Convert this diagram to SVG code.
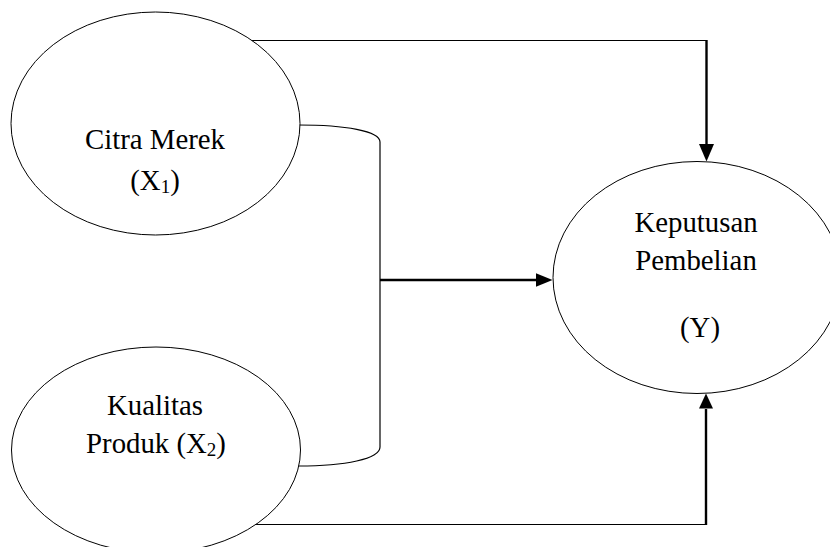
<svg xmlns="http://www.w3.org/2000/svg" width="830" height="547" viewBox="0 0 830 547">
<defs>
<style>
.node{fill:#fff;stroke:#000;stroke-width:1}
.lbl{font-family:"Liberation Serif","Times New Roman",serif;font-size:28.8px;fill:#000;text-anchor:middle}
.sub{font-size:19px}
.thin{fill:none;stroke:#000;stroke-width:1.2}
.thick{fill:none;stroke:#000;stroke-width:2.4}
.head{fill:#000;stroke:none}
</style>
</defs>
<rect width="830" height="547" fill="#fff"/>
<g id="connectors">
<path class="thin" d="M252,40.5 H706.5"/>
<path class="thick" d="M706.5,40 V146"/>
<polygon class="head" points="699,144 714,144 706.5,161.5"/>
<path class="thin" d="M298.5,125 C345,125 380,131 380,142 V447 C380,459 345,466 298.5,466"/>
<path class="thick" d="M380,280 H538"/>
<polygon class="head" points="536,273.3 536,286.7 552.5,280"/>
<path class="thin" d="M248,524.5 H706"/>
<path class="thick" d="M706,525 V409"/>
<polygon class="head" points="699,408.5 713,408.5 706,393.5"/>
</g>
<g id="citra-merek">
<ellipse class="node" cx="155.5" cy="123.5" rx="144.5" ry="111.5"/>
<text class="lbl" x="155" y="148.5">Citra Merek</text>
<text class="lbl" x="155" y="190">(X<tspan class="sub" dy="3">1</tspan><tspan dy="-3">)</tspan></text>
</g>
<g id="kualitas-produk">
<ellipse class="node" cx="156" cy="450" rx="144.5" ry="103"/>
<text class="lbl" x="155" y="415">Kualitas</text>
<text class="lbl" x="156" y="452.5">Produk (X<tspan class="sub" dy="3">2</tspan><tspan dy="-3">)</tspan></text>
</g>
<g id="keputusan-pembelian">
<ellipse class="node" cx="697" cy="277.5" rx="144" ry="116"/>
<text class="lbl" x="696" y="231.5">Keputusan</text>
<text class="lbl" x="696" y="270">Pembelian</text>
<text class="lbl" x="700" y="336.5">(Y)</text>
</g>
</svg>
